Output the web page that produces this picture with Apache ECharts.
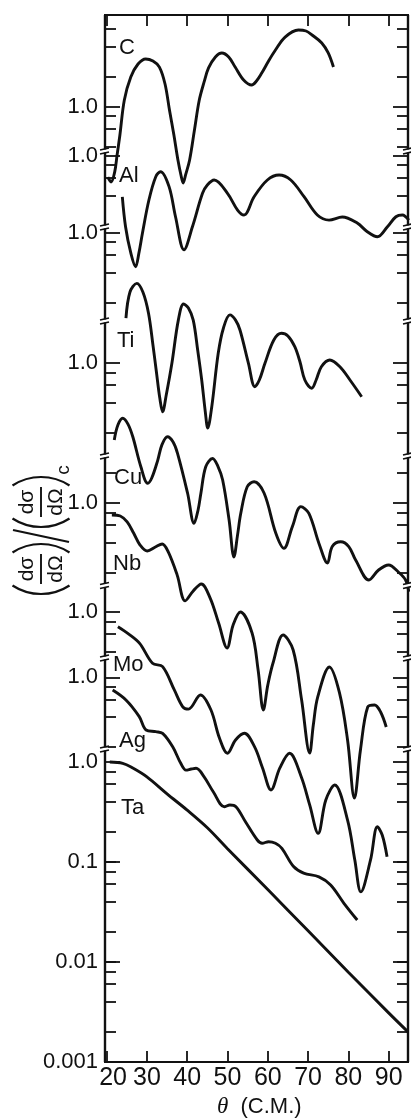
<!DOCTYPE html>
<html><head><meta charset="utf-8">
<script src="https://cdn.jsdelivr.net/npm/echarts@6/dist/echarts.min.js"></script>
<style>html,body{margin:0;padding:0;background:#fff}#c{width:411px;height:1118px}</style>
</head><body><div id="c"></div>
<script>
// ---- data ----
const elements = ['C','Al','Ti','Cu','Nb','Mo','Ag','Ta'];
// vertical shift of each curve on the common log axis (decades)
const offsetDecades = [6.555, 6.065, 5.295, 3.99, 2.59, 1.503, 0.847, 0];

const theta_C = [20.3,21.1,22.0,22.6,23.3,24.4,26.0,27.8,29.7,31.5,33.1,34.5,35.6,36.7,37.7,38.5,39.0,39.6,40.6,41.8,43.0,44.2,45.3,47.0,48.6,50.3,51.9,54.0,56.0,57.2,58.5,60.2,61.9,64.3,67.6,69.5,71.0,73.4,75.0,76.3];
const ratio_C = [0.197,0.176,0.221,0.327,0.519,1.16,1.97,2.66,2.99,2.85,2.48,1.68,0.923,0.519,0.292,0.202,0.172,0.207,0.292,0.582,1.16,1.76,2.43,3.13,3.43,3.13,2.48,1.84,1.64,1.80,2.16,2.85,3.67,4.95,5.82,5.69,5.19,4.32,3.43,2.48];

const theta_Al = [23.9,24.7,26.0,27.2,28.0,28.9,30.5,32.2,33.4,35.5,37.1,39.2,41.3,43.8,45.0,46.7,50.0,52.5,54.1,56.6,59.9,62.8,65.7,69.0,72.3,75.2,78.5,82.2,84.7,87.2,89.7,91.8,93.4,95.0];
const ratio_Al = [0.385,0.194,0.106,0.0773,0.105,0.168,0.359,0.614,0.689,0.488,0.244,0.114,0.194,0.419,0.507,0.569,0.419,0.285,0.254,0.387,0.569,0.638,0.569,0.387,0.254,0.226,0.243,0.211,0.173,0.154,0.194,0.244,0.254,0.226];

const theta_Ti = [24.8,25.8,27.5,29.0,30.4,31.5,32.4,33.2,33.9,34.8,36.2,37.8,39.1,40.3,41.5,42.6,43.6,44.5,45.1,46.1,47.7,49.0,50.6,52.0,53.1,55.2,56.8,57.9,59.3,61.5,63.4,65.0,66.7,68.0,69.2,70.9,72.0,73.3,75.4,77.9,80.4,83.3];
const ratio_Ti = [0.139,0.254,0.310,0.254,0.156,0.075,0.0391,0.0221,0.0161,0.0237,0.0492,0.133,0.193,0.176,0.133,0.0668,0.0335,0.0160,0.0111,0.0181,0.0619,0.111,0.150,0.133,0.106,0.0492,0.0287,0.0335,0.0492,0.0841,0.0982,0.0923,0.0721,0.0507,0.0335,0.0277,0.0335,0.0455,0.0531,0.0455,0.0335,0.0228];

const theta_Cu = [21.9,22.8,24.0,25.3,26.5,28.5,30.2,31.2,32.7,33.7,35.1,36.5,37.6,40.1,41.7,42.7,43.4,44.6,46.3,47.6,48.8,50.4,51.6,52.5,53.3,54.9,56.6,59.1,62.0,64.0,66.1,68.2,70.2,72.7,74.8,76.0,78.1,80.1,81.8,85.1,87.5,90.0,92.4,94.2,95.0];
const ratio_Cu = [0.170,0.240,0.280,0.245,0.183,0.0918,0.0627,0.0708,0.107,0.151,0.183,0.162,0.125,0.0498,0.0249,0.0339,0.0498,0.0918,0.111,0.0933,0.0676,0.0269,0.0115,0.0191,0.0314,0.0579,0.0650,0.0498,0.0198,0.0140,0.0231,0.0366,0.0314,0.0157,0.0100,0.0146,0.0163,0.0146,0.0107,0.00676,0.00851,0.00955,0.00813,0.00676,0.00516];

const theta_Nb = [21.3,23.4,25.1,26.7,28.3,30.1,32.1,33.8,35.3,37.5,39.5,41.5,43.5,45.7,47.8,49.9,51.4,53.2,56.1,57.6,58.9,60.0,61.3,63.8,66.3,68.4,70.4,71.3,72.4,75.3,77.8,79.8,81.5,83.0,84.8,86.5,88.0,89.4];
const ratio_Nb = [0.759,0.741,0.646,0.501,0.380,0.331,0.363,0.389,0.324,0.191,0.105,0.132,0.155,0.112,0.0631,0.0355,0.0603,0.0813,0.0501,0.0214,0.00851,0.0151,0.0251,0.0479,0.0339,0.0107,0.00316,0.00603,0.0115,0.0229,0.0126,0.00427,0.00112,0.00339,0.00912,0.00955,0.00813,0.00575];

const theta_Mo = [22.8,25.5,28.2,31.4,33.9,36.8,38.9,40.3,43.3,45.9,48.0,50.0,52.0,54.2,56.7,58.7,60.8,63.0,65.4,68.3,70.4,72.5,74.4,76.6,79.8,81.6,83.1,85.5,87.2,88.4,89.6];
const ratio_Mo = [0.708,0.598,0.483,0.305,0.282,0.165,0.112,0.106,0.147,0.104,0.0546,0.0384,0.0521,0.0608,0.0447,0.0274,0.0165,0.0274,0.0384,0.0224,0.0117,0.00608,0.0131,0.0185,0.00826,0.00329,0.00158,0.00329,0.00708,0.00585,0.00355];

const theta_Ag = [21.5,24.8,28.1,29.8,32.2,33.9,36.4,38.4,39.7,41.0,42.2,44.2,46.5,49.2,50.6,52.1,54.5,57.4,58.6,60.2,61.9,63.5,66.4,68.9,72.7,75.6,78.9,82.2];
const ratio_Ag = [0.746,0.593,0.404,0.297,0.286,0.275,0.202,0.138,0.118,0.121,0.123,0.101,0.0713,0.0508,0.0528,0.0508,0.0357,0.0236,0.0219,0.0227,0.0219,0.0195,0.0128,0.0110,0.0101,0.00838,0.00550,0.00374];

const theta_Ta = [20.8,24.0,26.5,30.0,35.0,40.0,45.0,50.0,60.0,70.0,80.0,90.0,94.8];
const ratio_Ta = [1.00,0.97,0.87,0.71,0.48,0.33,0.22,0.136,0.053,0.0205,0.0079,0.0031,0.0020];

// axis ticks / labels
const xTickValues = [20,30,40,50,60,70,80,90];
const tickMultipliers = [
  [6,4,2,1,0.8,0.6,0.4],
  [1,0.8,0.6,0.4],
  [1,0.8,0.6,0.4,0.2],
  [1,0.8,0.6,0.4,0.2],
  [2,1,0.8,0.6,0.4,0.2],
  [1,0.8,0.6,0.4],
  [1,0.8,0.6,0.4,0.2],
  [1,0.8,0.6,0.4,0.2,0.1,0.08,0.06,0.04,0.02,0.01,0.008,0.006,0.004,0.002,0.001]
];
const taLabelValues = [0.1, 0.01, 0.001];
const taLabelText = ['0.1', '0.01', '0.001'];
// axis-break positions on the common log axis (decades)
const axisBreaks = [6.11, 5.35, 4.41, 3.06, 1.765, 1.04, 0.13];

// ---- build ----
const thetas = [theta_C,theta_Al,theta_Ti,theta_Cu,theta_Nb,theta_Mo,theta_Ag,theta_Ta];
const ratios = [ratio_C,ratio_Al,ratio_Ti,ratio_Cu,ratio_Nb,ratio_Mo,ratio_Ag,ratio_Ta];
const X_MIN = 19.6, X_MAX = 94.8;
const Y_MIN = 1e-3, Y_MAX = Math.pow(10, 7.47);
const FONT = '"Liberation Sans", Arial, sans-serif';
const INK = '#111';

const majorVals = [], minorVals = [], labelVals = [];
const labelMap = {};
const k = v => Math.log10(v).toFixed(3);
elements.forEach((el, i) => {
  const s = Math.pow(10, offsetDecades[i]);
  tickMultipliers[i].forEach(m => {
    const v = m * s;
    if (m === 1) majorVals.push(v); else minorVals.push(v);
  });
  labelVals.push(s); labelMap[k(s)] = '1.0';
});
taLabelValues.forEach((v, j) => {
  majorVals.push(v); labelVals.push(v); labelMap[k(v)] = taLabelText[j];
});

const series = elements.map((el, i) => {
  const s = Math.pow(10, offsetDecades[i]);
  return {
    name: el, type: 'line', xAxisIndex: 0, yAxisIndex: 0,
    data: thetas[i].map((t, j) => [t, ratios[i][j] * s]),
    showSymbol: false, symbol: 'none', smooth: 0.35, clip: true,
    lineStyle: {color: INK, width: 2.9}, z: 3
  };
});

series.push({
  type: 'custom', xAxisIndex: 0, yAxisIndex: 0, clip: false, z: 10,
  data: axisBreaks.map(d => [X_MIN, Math.pow(10, d)]),
  renderItem: (params, api) => {
    const v = api.value(1);
    const pl = api.coord([X_MIN, v]);
    const pr = api.coord([X_MAX, v]);
    const mk = p => [
      {type: 'rect', shape: {x: p[0] - 3, y: p[1] - 1.5, width: 6, height: 3}, style: {fill: '#fff'}},
      {type: 'line', shape: {x1: p[0] - 5, y1: p[1] - 1, x2: p[0] + 4, y2: p[1] - 3}, style: {stroke: INK, lineWidth: 1.7}},
      {type: 'line', shape: {x1: p[0] - 5, y1: p[1] + 3, x2: p[0] + 4, y2: p[1] + 1}, style: {stroke: INK, lineWidth: 1.7}}
    ];
    return {type: 'group', children: mk(pl).concat(mk(pr))};
  }
});

function yAx(pos, vals, len, withLabels) {
  return {
    type: 'log', logBase: 10, min: Y_MIN, max: Y_MAX, position: pos,
    splitLine: {show: false},
    axisLine: {show: true, lineStyle: {color: INK, width: 2.2}},
    axisTick: {show: true, inside: true, length: len, customValues: vals, lineStyle: {color: INK, width: 1.8}},
    axisLabel: withLabels ? {
      show: true, customValues: labelVals, margin: 7, color: INK, fontSize: 22, fontFamily: FONT,
      formatter: v => labelMap[k(v)] || ''
    } : {show: false}
  };
}

const txt = (text, x, y, size) => ({
  type: 'text', x: x, y: y,
  style: {text: text, fill: INK, font: size + 'px ' + FONT, align: 'left', verticalAlign: 'middle',
          textAlign: 'left', textVerticalAlign: 'middle'}
});
const ctxt = (text, x, y, size) => ({
  type: 'text', x: x, y: y,
  style: {text: text, fill: INK, font: size + 'px ' + FONT, align: 'center', verticalAlign: 'middle',
          textAlign: 'center', textVerticalAlign: 'middle'}
});
function frac(cx) {
  return [
    ctxt('dσ', cx, -14, 21),
    {type: 'line', shape: {x1: cx - 15, y1: 0, x2: cx + 15, y2: 0}, style: {stroke: INK, lineWidth: 1.9}},
    ctxt('dΩ', cx, 15, 21)
  ];
}
function paren(edge, open) {
  const R = 52, a = 0.58;
  return open
    ? {type: 'arc', shape: {cx: edge + R, cy: 0, r: R, startAngle: Math.PI - a, endAngle: Math.PI + a}, style: {stroke: INK, lineWidth: 2.2, fill: 'none'}}
    : {type: 'arc', shape: {cx: edge - R, cy: 0, r: R, startAngle: -a, endAngle: a}, style: {stroke: INK, lineWidth: 2.2, fill: 'none'}};
}
const titleChildren = [].concat(
  [paren(-64, true)], frac(-39), [paren(-14, false)],
  [{type: 'line', shape: {x1: -12, y1: 28, x2: 0, y2: -28}, style: {stroke: INK, lineWidth: 2.2}}],
  [paren(3, true)], frac(28), [paren(53, false)],
  [ctxt('c', 60, 23, 19)]
);

const elementLabels = [
  ['C', 119, 48], ['Al', 119, 176], ['Ti', 117, 341], ['Cu', 114, 478],
  ['Nb', 113, 564], ['Mo', 113, 665], ['Ag', 119, 741], ['Ta', 121, 808]
];

const chart = echarts.init(document.getElementById('c'), null, {renderer: 'canvas'});
chart.setOption({
  animation: false,
  backgroundColor: '#fff',
  textStyle: {fontFamily: FONT},
  grid: {left: 105, right: 3, top: 15, bottom: 56},
  xAxis: [
    {
      type: 'value', min: X_MIN, max: X_MAX, position: 'bottom',
      splitLine: {show: false},
      axisLine: {lineStyle: {color: INK, width: 2.2}},
      axisTick: {inside: true, length: 11, customValues: xTickValues, lineStyle: {color: INK, width: 1.8}},
      axisLabel: {
        customValues: xTickValues, margin: 4, color: INK, fontSize: 25, fontFamily: FONT,
        formatter: v => v === 20 ? '{p|20}' : String(v),
        rich: {p: {fontSize: 25, fontFamily: FONT, color: INK, padding: [0, 0, 0, 13]}}
      }
    },
    {
      type: 'value', min: X_MIN, max: X_MAX, position: 'top',
      splitLine: {show: false},
      axisLine: {lineStyle: {color: INK, width: 2.2}},
      axisTick: {inside: true, length: 11, customValues: xTickValues, lineStyle: {color: INK, width: 1.8}},
      axisLabel: {show: false}
    }
  ],
  yAxis: [
    yAx('left', majorVals, 15, true),
    yAx('left', minorVals, 11, false),
    yAx('right', majorVals, 15, false),
    yAx('right', minorVals, 11, false)
  ],
  graphic: [].concat(
    elementLabels.map(e => txt(e[0], e[1], e[2], 22)),
    [
      {type: 'group', x: 41, y: 530, rotation: Math.PI / 2, children: titleChildren},
      {type: 'text', x: 217, y: 1107,
       style: {text: '{t|θ}  (C.M.)', fill: INK, font: '22px ' + FONT, align: 'left', verticalAlign: 'middle',
               textAlign: 'left', textVerticalAlign: 'middle',
               rich: {t: {fontSize: 23, fontStyle: 'italic', fontFamily: 'serif', fill: INK}}}}
    ]
  ),
  series: series
});
</script>
</body></html>
